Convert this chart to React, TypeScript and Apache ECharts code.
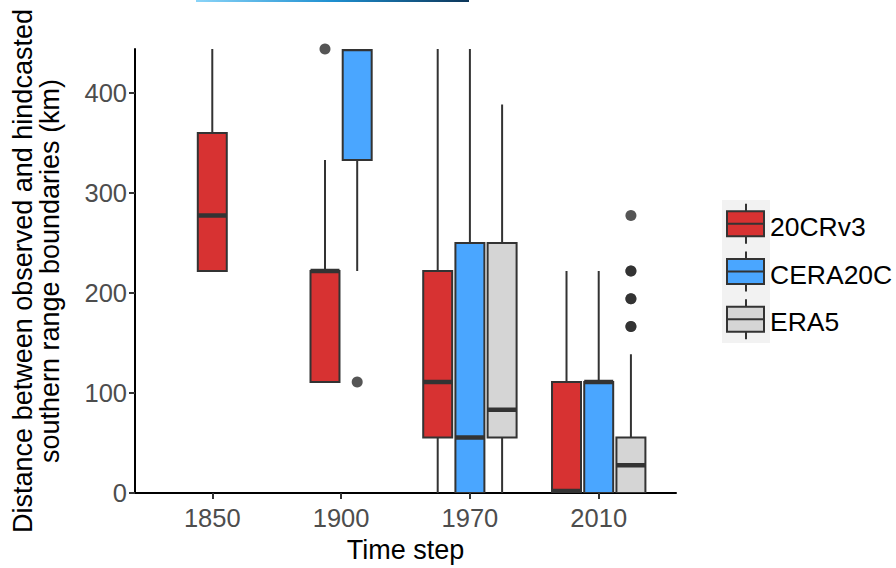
import React, { useEffect, useRef } from "react";
import * as echarts from "echarts";

// ---- data ----
const categories = ["1850", "1900", "1970", "2010"];
const groups = ["20CRv3", "CERA20C", "ERA5"];
const groupColors = ["#D73232", "#4AA6FF", "#D5D5D5"];

// [min, Q1, median, Q3, max] per category (null = absent)
const box20CRv3: (number[] | null)[] = [
  [222, 222, 277.5, 360, 444],
  [111, 111, 222, 222, 333],
  [0, 55.5, 111, 222, 444],
  [0, 0, 2, 111, 222],
];
const boxCERA20C: (number[] | null)[] = [
  null,
  [222, 333, 444, 444, 444],
  [0, 0, 55.5, 250, 444],
  [0, 0, 111, 111, 222],
];
const boxERA5: (number[] | null)[] = [
  null,
  null,
  [0, 55.5, 83.25, 250, 388.5],
  [0, 0, 27.75, 55.5, 138.75],
];

const out20CRv3: number[][] = [[], [444], [], []];
const outCERA20C: number[][] = [[], [111], [], []];
const outERA5: number[][] = [[], [], [], [277.5, 222, 222, 194.25, 194.25, 166.5, 166.5]];

const yTicks = [0, 100, 200, 300, 400];
const yMax = 444;

const boxesByGroup = [box20CRv3, boxCERA20C, boxERA5];
const outliersByGroup = [out20CRv3, outCERA20C, outERA5];

const DODGE = 0.25;
const BOX_HALF = 0.1125;
const FONT = "'Liberation Sans', Arial, sans-serif";

function xPosition(catIdx: number, groupIdx: number): number {
  const present: number[] = [];
  boxesByGroup.forEach((b, g) => {
    if (b[catIdx]) present.push(g);
  });
  const j = present.indexOf(groupIdx);
  const k = present.length;
  return catIdx + 1 + (j - (k - 1) / 2) * DODGE;
}

export default function App() {
  const ref = useRef<HTMLDivElement>(null);
  useEffect(() => {
    if (!ref.current) return;
    const chart = echarts.init(ref.current, undefined, { renderer: "svg" });

    const series: any[] = [];
    groups.forEach((name, g) => {
      const data: number[][] = [];
      boxesByGroup[g].forEach((b, i) => {
        if (b) data.push([xPosition(i, g), ...b]);
      });
      const color = groupColors[g];
      series.push({
        type: "custom",
        name,
        clip: true,
        data,
        encode: { x: 0, y: [1, 2, 3, 4, 5] },
        renderItem: (_params: any, api: any) => {
          const x = api.value(0);
          const mn = api.value(1);
          const q1 = api.value(2);
          const md = api.value(3);
          const q3 = api.value(4);
          const mx = api.value(5);
          const pTL = api.coord([x - BOX_HALF, q3]);
          const pBR = api.coord([x + BOX_HALF, q1]);
          const pMax = api.coord([x, mx]);
          const pMin = api.coord([x, mn]);
          const pMed = api.coord([x, md]);
          const lineStyle = { stroke: "#333333", lineWidth: 2 };
          return {
            type: "group",
            children: [
              {
                type: "line",
                shape: { x1: pMax[0], y1: pMax[1], x2: pMax[0], y2: pTL[1] },
                style: lineStyle,
              },
              {
                type: "line",
                shape: { x1: pMax[0], y1: pBR[1], x2: pMax[0], y2: pMin[1] },
                style: lineStyle,
              },
              {
                type: "rect",
                shape: {
                  x: pTL[0],
                  y: pTL[1],
                  width: pBR[0] - pTL[0],
                  height: pBR[1] - pTL[1],
                },
                style: { fill: color, stroke: "#333333", lineWidth: 2 },
              },
              {
                type: "line",
                shape: { x1: pTL[0], y1: pMed[1], x2: pBR[0], y2: pMed[1] },
                style: { stroke: "#333333", lineWidth: 4.5 },
              },
            ],
          };
        },
        z: 2,
      });
    });

    groups.forEach((name, g) => {
      const data: number[][] = [];
      outliersByGroup[g].forEach((vals, i) => {
        vals.forEach((v) => data.push([xPosition(i, g), v]));
      });
      series.push({
        type: "scatter",
        name: name + " outliers",
        data,
        symbolSize: 11,
        itemStyle: { color: "#2b2b2b", opacity: 0.8 },
        clip: true,
        z: 3,
      });
    });

    // legend built from group names
    const keyH = 47.7;
    const legTop = 200;
    const legLeft = 722;
    const legendEls: any[] = [
      {
        type: "rect",
        shape: { x: legLeft, y: legTop, width: 48, height: keyH * groups.length },
        style: { fill: "#F2F2F2" },
      },
    ];
    groups.forEach((name, g) => {
      const cy = legTop + keyH * (g + 0.5);
      legendEls.push(
        {
          type: "line",
          shape: { x1: legLeft + 24, y1: cy - 20, x2: legLeft + 24, y2: cy + 20 },
          style: { stroke: "#333333", lineWidth: 2 },
        },
        {
          type: "rect",
          shape: { x: legLeft + 5, y: cy - 12.5, width: 37, height: 25 },
          style: { fill: groupColors[g], stroke: "#333333", lineWidth: 2 },
        },
        {
          type: "line",
          shape: { x1: legLeft + 5, y1: cy, x2: legLeft + 42, y2: cy },
          style: { stroke: "#333333", lineWidth: 2 },
        },
        {
          type: "text",
          x: legLeft + 48,
          y: cy + 3,
          style: {
            text: name,
            fill: "#000000",
            font: `26.5px ${FONT}`,
            verticalAlign: "middle",
            align: "left",
          },
        }
      );
    });

    chart.setOption({
      animation: false,
      backgroundColor: "#ffffff",
      grid: { left: 135, right: 220, top: 49, bottom: 75 },
      xAxis: {
        type: "value",
        min: 0.4,
        max: 4.6,
        name: "Time step",
        nameLocation: "middle",
        nameGap: 43,
        nameTextStyle: { fontSize: 27, color: "#000000", fontFamily: FONT },
        axisLine: { show: true, lineStyle: { color: "#000000", width: 2 } },
        axisTick: {
          show: true,
          customValues: [1, 2, 3, 4],
          length: 6,
          lineStyle: { color: "#333333", width: 2 },
        },
        axisLabel: {
          customValues: [1, 2, 3, 4],
          formatter: (v: number) => categories[Math.round(v) - 1] ?? "",
          fontSize: 25.5,
          color: "#4D4D4D",
          fontFamily: FONT,
          margin: 12,
        },
        splitLine: { show: false },
      },
      yAxis: {
        type: "value",
        min: 0,
        max: yMax,
        name: "Distance between observed and hindcasted\nsouthern range boundaries (km)",
        nameLocation: "middle",
        nameGap: 72,
        nameTextStyle: {
          fontSize: 27,
          lineHeight: 27,
          color: "#000000",
          fontFamily: FONT,
          align: "center",
        },
        axisLine: { show: true, lineStyle: { color: "#000000", width: 2 } },
        axisTick: {
          show: true,
          customValues: yTicks,
          length: 6,
          lineStyle: { color: "#333333", width: 2 },
        },
        axisLabel: {
          customValues: yTicks,
          fontSize: 25.5,
          color: "#4D4D4D",
          fontFamily: FONT,
          margin: 8,
        },
        splitLine: { show: false },
      },
      graphic: [
        {
          type: "rect",
          shape: { x: 196, y: 0, width: 273, height: 2 },
          style: {
            fill: new echarts.graphic.LinearGradient(0, 0, 1, 0, [
              { offset: 0, color: "#8ad4f8" },
              { offset: 0.5, color: "#1e8fd0" },
              { offset: 1, color: "#0c3558" },
            ]),
          },
        },
        ...legendEls,
      ],
      series,
    });
    return () => chart.dispose();
  }, []);
  return <div ref={ref} style={{ width: 896, height: 568, position: "absolute", left: 0, top: 0 }} />;
}
